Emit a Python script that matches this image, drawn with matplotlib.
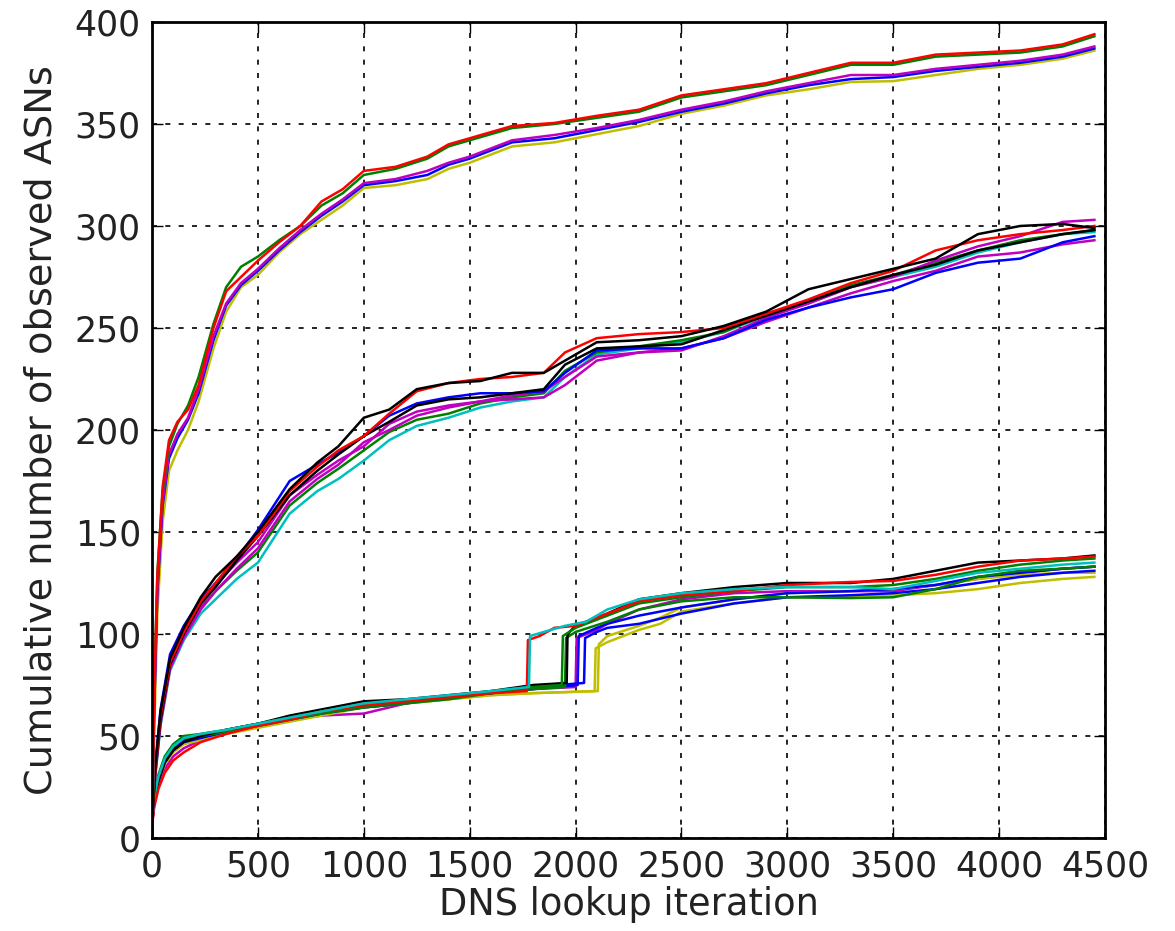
import matplotlib
matplotlib.use("Agg")
import matplotlib.pyplot as plt

# classic matplotlib colour codes
B, G, R, C, M, Y, K = "#0000ff", "#008000", "#ff0000", "#00bfbf", "#bf00bf", "#bfbf00", "#000000"

# ---- top group (shared x grid) ----
top_x = [0, 10, 25, 50, 80, 120, 170, 220, 290, 350, 420, 500, 600, 700, 800, 900, 1000,
         1150, 1300, 1400, 1500, 1700, 1900, 2100, 2300, 2500, 2700, 2900, 3100, 3300,
         3500, 3700, 3900, 4100, 4300, 4450]
top_red = [3, 70, 128, 172, 195, 204, 210, 222, 250, 268, 275, 283, 292, 300, 312, 318, 327,
           329, 334, 340, 343, 349, 350.5, 354, 357, 364, 367, 370, 375, 380,
           380, 384, 385, 386, 389, 394]
top_green = [3, 72, 130, 170, 192, 203, 212, 226, 252, 270, 280, 285, 293, 300, 310, 316, 325,
             328, 333, 339, 342, 348, 350, 353, 356, 363, 366, 369, 374, 379,
             379, 383, 384, 385, 388, 393]
top_magenta = [2, 65, 122, 165, 188, 198, 206, 220, 246, 262, 272, 279, 289, 298, 306, 313, 321,
               323, 327, 331, 334, 342, 344.6, 348, 352, 357, 361, 366, 370, 374,
               374, 377, 379, 381, 384, 388]
top_blue = [2, 62, 120, 163, 186, 196, 205, 218, 244, 261, 271, 278, 288, 297, 305, 312, 320,
            322, 325, 330, 333, 341, 343, 347, 351, 356, 360, 365, 369, 372,
            373, 376, 378, 380, 383, 387]
top_yellow = [1, 50, 110, 155, 180, 190, 200, 214, 240, 258, 270, 276, 287, 296, 303, 310, 318.6,
              320, 323, 328, 331, 339, 341, 345, 349, 355, 359, 364, 367, 370.6,
              371, 374, 377, 379, 382, 386]

# ---- middle group (shared x grid) ----
mid_x = [0, 15, 40, 85, 150, 230, 300, 400, 500, 650, 780, 880, 1000, 1120, 1250, 1400, 1550,
         1700, 1850, 1950, 2100, 2300, 2500, 2700, 2900, 3100, 3300, 3500, 3700, 3900,
         4100, 4300, 4450]
mid_black = [8, 35, 62, 88, 103, 118, 128, 138, 150, 171, 184, 192, 206, 210, 220, 223, 224,
             228, 228, 234, 243, 244, 246, 251, 258, 269, 274, 279, 284, 296,
             300, 301, 299]
mid_black2 = [8, 33, 58, 85, 100, 115, 123, 136, 148, 168, 180, 188, 197, 204, 212, 215, 216,
              218, 220, 232, 240, 241, 242, 249, 256, 263, 270, 276, 281, 288,
              292, 296, 298]
mid_red = [8, 34, 60, 86, 101, 116, 125, 138, 148, 170, 182, 190, 197, 208, 219, 223, 225,
           226, 228, 238, 245, 247, 248, 250, 257, 264, 272, 278, 288, 293,
           296, 298, 300]
mid_blue = [8, 36, 63, 90, 104, 117, 125, 137, 151, 175, 183, 189, 197, 207, 213, 216, 218,
            218, 219, 228, 239, 240, 240, 245, 254, 260, 265, 269, 277, 282,
            284, 292, 295]
mid_cyan = [7, 30, 55, 82, 97, 110, 117, 127, 135, 159, 170, 176, 185, 195, 202, 206, 211,
            214, 216, 226, 237, 240, 243, 248, 256, 262, 270, 275, 280, 287,
            292, 296, 297]
mid_green = [7, 31, 57, 84, 99, 113, 121, 131, 140, 163, 174, 181, 190, 199, 205, 208, 213,
             216, 218, 229, 238, 241, 244, 248, 257, 263, 271, 276, 282, 288,
             293, 296, 298]
mid_magenta = [7, 32, 58, 85, 100, 114, 124, 135, 145, 168, 178, 185, 192, 203, 209, 212, 214,
               215, 216, 222, 234, 238, 239, 246, 255, 262, 270, 275, 283, 290,
               295, 302, 303]
mid_magenta2 = [7, 31, 56, 83, 98, 112, 121, 132, 142, 165, 176, 183, 194, 200, 207, 211, 214,
                217, 219, 226, 236, 238, 240, 245, 253, 260, 267, 273, 278, 285,
                287, 291, 293]

# ---- bottom group (each line has its own jump) ----
bot_red_x = [0, 10, 30, 60, 100, 150, 230, 350, 500, 650, 800, 1000, 1200, 1400, 1600, 1770,
             1775, 1830, 1900, 2000, 2150, 2300, 2500, 2750, 3000, 3300, 3500, 3700, 3900,
             4100, 4300, 4450]
bot_red_y = [6, 15, 24, 32, 38, 42, 47, 51, 55, 58, 62, 65, 67, 69, 71, 72,
             97, 99, 103, 104, 110, 116, 119, 121, 124, 125.5, 126, 129, 133,
             136, 137, 138]
bot_cyan_x = [0, 10, 30, 60, 100, 150, 230, 350, 500, 650, 800, 1000, 1200, 1400, 1600, 1780,
              1785, 1850, 1950, 2050, 2150, 2300, 2500, 2750, 3000, 3300, 3500, 3700, 3900,
              4100, 4300, 4450]
bot_cyan_y = [8, 20, 30, 39, 45, 49, 51, 53, 56, 59, 62, 66, 68, 70, 72, 74,
              99, 101, 104, 106, 112, 117, 120, 122, 123, 123, 122, 126, 130,
              132, 134, 135]
bot_green_x = [0, 10, 30, 60, 100, 150, 230, 350, 500, 650, 800, 1000, 1200, 1400, 1600, 1800,
               1935, 1940, 2000, 2150, 2300, 2500, 2750, 3000, 3300, 3500, 3700, 3900,
               4100, 4300, 4450]
bot_green_y = [8, 21, 31, 40, 46, 50, 51, 53, 56, 59, 62, 65, 67, 69, 72, 74,
               75, 99, 103, 109, 115, 118, 121, 123, 123, 124, 127, 131,
               134, 136, 137]
bot_green2_x = [0, 10, 30, 60, 100, 150, 230, 350, 500, 650, 800, 1000, 1200, 1400, 1600, 1800,
                1950, 1955, 2000, 2150, 2300, 2500, 2750, 3000, 3300, 3500, 3700, 3900,
                4100, 4300, 4450]
bot_green2_y = [7, 19, 30, 39, 45, 49, 50, 52, 55, 58, 61, 64, 66, 68, 71, 73,
                74, 98, 101, 106, 112, 116, 118, 118, 117.6, 118, 122, 128,
                131, 132, 133]
bot_black_x = [0, 10, 30, 60, 100, 150, 230, 350, 500, 650, 800, 1000, 1200, 1400, 1600, 1800,
               1958, 1962, 2000, 2150, 2300, 2500, 2750, 3000, 3300, 3500, 3700, 3900,
               4100, 4300, 4450]
bot_black_y = [7, 18, 28, 37, 43, 47, 50, 53, 56, 60, 63, 67, 68, 70, 72, 75,
               76, 100, 104, 110, 117, 120, 123, 125, 125, 127, 131, 135,
               136, 137, 138.5]
bot_blue_x = [0, 10, 30, 60, 100, 150, 230, 350, 500, 650, 800, 1000, 1200, 1400, 1600, 1800,
              2040, 2045, 2100, 2150, 2300, 2500, 2750, 3000, 3300, 3500, 3700, 3900,
              4100, 4300, 4450]
bot_blue_y = [7, 18, 28, 37, 43, 47, 49, 52, 55, 58, 61, 64, 66, 69, 71, 74,
              76, 98, 101, 103, 105, 110, 115, 118, 119, 120, 122, 125,
              128, 130, 131]
bot_blue2_x = [0, 10, 30, 60, 100, 150, 230, 350, 500, 650, 800, 1000, 1200, 1400, 1600, 1800,
               2010, 2015, 2100, 2150, 2300, 2500, 2750, 3000, 3300, 3500, 3700, 3900,
               4100, 4300, 4450]
bot_blue2_y = [7, 19, 29, 38, 44, 48, 50, 53, 56, 59, 62, 65, 67, 69, 71, 73,
               75, 99, 103, 105, 109, 113, 117, 120, 121, 122, 124, 128,
               130, 132, 133]
bot_magenta_x = [0, 10, 30, 60, 100, 150, 230, 350, 500, 650, 800, 1000, 1200, 1400, 1600, 1800,
                 2000, 2005, 2100, 2150, 2300, 2500, 2750, 3000, 3300, 3500, 3700, 3900,
                 4100, 4300, 4450]
bot_magenta_y = [6, 16, 26, 34, 40, 44, 48, 52, 55, 58, 60, 61, 66, 69, 71, 73,
                 74, 98, 102, 105, 112, 117, 120, 121, 121, 121, 124, 127,
                 130, 132, 133]
bot_yellow_x = [0, 10, 30, 60, 100, 150, 230, 350, 500, 650, 800, 1000, 1200, 1400, 1600, 1800,
                2090, 2095, 2150, 2300, 2400, 2500, 2750, 3000, 3300, 3500, 3700, 3900,
                4100, 4300, 4450]
bot_yellow_y = [7, 18, 28, 36, 42, 46, 48, 51, 54, 57, 60, 64, 66, 68, 70, 71,
                72, 93, 96, 102, 105, 111, 115, 118, 118, 119, 120, 122,
                125, 127, 128]
bot_yellow2_x = [0, 10, 30, 60, 100, 150, 230, 350, 500, 650, 800, 1000, 1200, 1400, 1600, 1800,
                 2105, 2110, 2150, 2300, 2400, 2500, 2750, 3000, 3300, 3500, 3700, 3900,
                 4100, 4300, 4450]
bot_yellow2_y = [7, 18, 28, 37, 43, 47, 49, 52, 55, 58, 61, 64, 66, 68, 70, 71,
                 72, 95, 99, 104, 108, 113, 117, 120, 121, 122, 124, 127,
                 129, 130, 130]

plt.rcParams["font.family"] = ["DejaVu Sans"]
plt.rcParams["font.size"] = 25

fig = plt.figure(figsize=(11.75, 9.31), dpi=100)
ax = fig.add_axes([0.1294, 0.0999, 0.8110, 0.8765])

lw = 1.8
# bottom group
for xs, ys, col in [(bot_magenta_x, bot_magenta_y, M), (bot_yellow2_x, bot_yellow2_y, Y),
                    (bot_yellow_x, bot_yellow_y, Y), (bot_blue_x, bot_blue_y, B),
                    (bot_blue2_x, bot_blue2_y, B), (bot_green2_x, bot_green2_y, G),
                    (bot_black_x, bot_black_y, K), (bot_green_x, bot_green_y, G),
                    (bot_red_x, bot_red_y, R), (bot_cyan_x, bot_cyan_y, C)]:
    ax.plot(xs, ys, color=col, lw=lw)

# middle group
for ys, col in [(mid_cyan, C), (mid_green, G), (mid_magenta2, M), (mid_magenta, M),
                (mid_blue, B), (mid_black2, K), (mid_red, R), (mid_black, K)]:
    ax.plot(mid_x, ys, color=col, lw=lw)

# top group
for ys, col in [(top_yellow, Y), (top_blue, B), (top_magenta, M), (top_green, G), (top_red, R)]:
    ax.plot(top_x, ys, color=col, lw=lw)

ax.set_xlim(0, 4500)
ax.set_ylim(0, 400)
ax.set_xticks(range(0, 4501, 500))
ax.set_yticks(range(0, 401, 50))
ax.grid(True, color="black", linestyle=(0, (3, 5)), linewidth=1.2)
ax.tick_params(direction="in", length=8, width=1, top=True, right=True, pad=8,
               labelcolor="#222222")
for sp in ax.spines.values():
    sp.set_linewidth(2)

ax.set_xlabel("DNS lookup iteration", fontsize=26.5, labelpad=2, color="#222222")
ax.set_ylabel("Cumulative number of observed ASNs", fontsize=27.5, labelpad=11, color="#222222")

fig.savefig("out.png", dpi=100)
